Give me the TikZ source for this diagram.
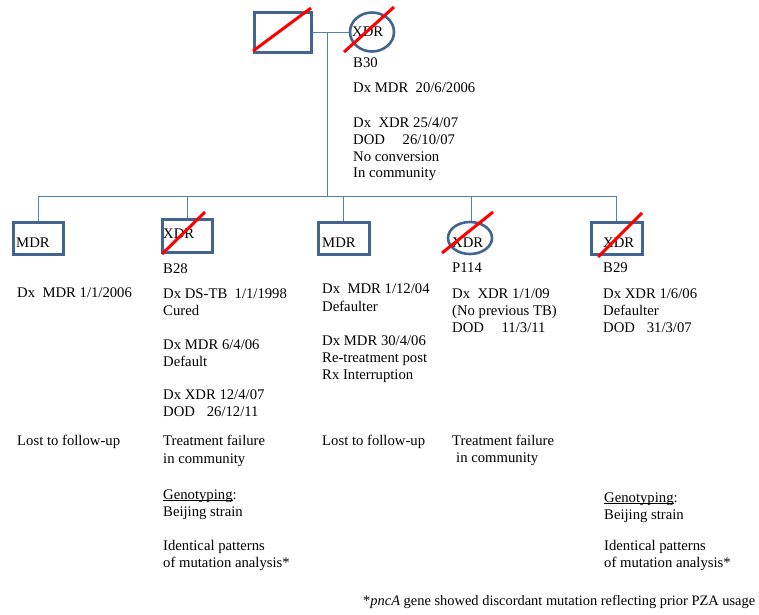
\documentclass[tikz,border=0pt]{standalone}
\usepackage{fontspec}
\setmainfont{Liberation Serif}
\usetikzlibrary{shapes.geometric}
\definecolor{boxblue}{RGB}{65,100,145}
\definecolor{lineblue}{RGB}{79,129,189}
\definecolor{crossred}{RGB}{255,0,0}
\newcommand{\myul}[1]{\mbox{\setbox0\hbox{#1}\rlap{\rule[-2pt]{\wd0}{0.8pt}}\box0}}
\begin{document}
\begin{tikzpicture}[x=1pt,y=-1pt,
  every node/.style={font=\fontsize{14.7}{17}\selectfont},
  sqbox/.style={draw=boxblue,line width=3pt,rectangle,inner sep=0pt},
  ellbox/.style={draw=boxblue,line width=2.6pt,ellipse,inner sep=0pt},
  link/.style={draw=lineblue,line width=1pt},
  cross/.style={draw=crossred,line width=3pt},
  txt/.style={anchor=base west,inner sep=0pt,text=black}]
\useasboundingbox (0,0) rectangle (759,614);
% parents
\node[sqbox,minimum width=57pt,minimum height=40pt] (father) at (282.5,32) {};
\node[ellbox,minimum width=44pt,minimum height=39pt] (mother) at (372,32) {};
% children shapes
\node[sqbox,minimum width=50pt,minimum height=32pt] (c1) at (38,238) {};
\node[sqbox,minimum width=50pt,minimum height=33pt] (c2) at (187,235.5) {};
\node[sqbox,minimum width=51pt,minimum height=32pt] (c3) at (343.5,238) {};
\node[ellbox,minimum width=44pt,minimum height=32pt] (c4) at (470,238) {};
\node[sqbox,minimum width=51pt,minimum height=32pt] (c5) at (616.5,238) {};
% connectors
\coordinate (mid) at (327,32);
\coordinate (sib) at (327,196);
\coordinate (sibL) at (38,196);
\coordinate (sibR) at (617,196);
\draw[link] (father.east) -- (mother.west);
\draw[link] (mid) -- (sib);
\draw[link] (sibL) -- (sibR);
\draw[link] (c1.north) -- (c1.north |- sib);
\draw[link] (c2.north) -- (c2.north |- sib);
\draw[link] (c3.north) -- (c3.north |- sib);
\draw[link] ([xshift=1pt]c4.north) -- ([xshift=1pt]c4.north |- sib);
\draw[link] (c5.north) -- (c5.north |- sib);
% labels inside shapes
\node[txt] (lm) at (352,36) {XDR};
\node[txt] (l1) at (16,247) {MDR};
\node[txt] (l2) at (163,238) {XDR};
\node[txt] (l3) at (322,247) {MDR};
\node[txt] (l4) at (452,247) {XDR};
\node[txt] (l5) at (603,247) {XDR};
% deceased crosses
\draw[cross] ([xshift=-29.5pt,yshift=-19pt]father.center) -- ([xshift=28.5pt,yshift=24pt]father.center);
\draw[cross] ([xshift=-28pt,yshift=-20pt]mother.center) -- ([xshift=22pt,yshift=25pt]mother.center);
\draw[cross] ([xshift=-25pt,yshift=-18.5pt]c2.center) -- ([xshift=18pt,yshift=23.5pt]c2.center);
\draw[cross] ([xshift=-28pt,yshift=-15pt]c4.center) -- ([xshift=23pt,yshift=26pt]c4.center);
\draw[cross] ([xshift=-18.5pt,yshift=-19pt]c5.center) -- ([xshift=25.5pt,yshift=25pt]c5.center);
% text lines
\foreach \nm/\xx/\yy/\txt in {
  a1/353/67/{B30},
  a2/353/92/{Dx MDR~~20/6/2006},
  a3/353/127/{Dx~~XDR 25/4/07},
  a4/353/144/{DOD\hspace{1.2em}26/10/07},
  a5/353/161/{No conversion},
  a6/353/177/{In community},
  b1/17/297/{Dx~~MDR 1/1/2006},
  b2/17/445/{Lost to follow-up},
  d1/163/273/{B28},
  d2/163/298/{Dx DS-TB~~1/1/1998},
  d3/163/315/{Cured},
  d4/163/349/{Dx MDR 6/4/06},
  d5/163/366/{Default},
  d6/163/399/{Dx XDR 12/4/07},
  d7/163/416/{DOD\hspace{0.8em}26/12/11},
  d8/163/445/{Treatment failure},
  d9/163/463/{in community},
  d10/163/499/{\myul{Genotyping}:},
  d11/163/516/{Beijing strain},
  d12/163/550/{Identical patterns},
  d13/163/567/{of mutation analysis*},
  e1/322/293/{Dx~~MDR 1/12/04},
  e2/322/311/{Defaulter},
  e3/322/345/{Dx MDR 30/4/06},
  e4/322/362/{Re-treatment post},
  e5/322/379/{Rx Interruption},
  e6/322/445/{Lost to follow-up},
  f1/452/272/{P114},
  f2/452/298/{Dx~~XDR 1/1/09},
  f3/452/315/{(No previous TB)},
  f4/452/332/{DOD\hspace{1.2em}11/3/11},
  f5/452/445/{Treatment failure},
  f6/456/462/{in community},
  g1/603/272/{B29},
  g2/603/298/{Dx XDR 1/6/06},
  g3/603/315/{Defaulter},
  g4/603/332/{DOD\hspace{0.8em}31/3/07},
  g5/604/502/{\myul{Genotyping}:},
  g6/604/519/{Beijing strain},
  g7/604/550/{Identical patterns},
  g8/604/567/{of mutation analysis*}}
  { \node[txt] (\nm) at (\xx,\yy) {\txt}; }
\node[txt] (foot) at (363,605) {\resizebox{392pt}{!}{*\textit{pncA} gene showed discordant mutation reflecting prior PZA usage}};
\end{tikzpicture}
\end{document}
